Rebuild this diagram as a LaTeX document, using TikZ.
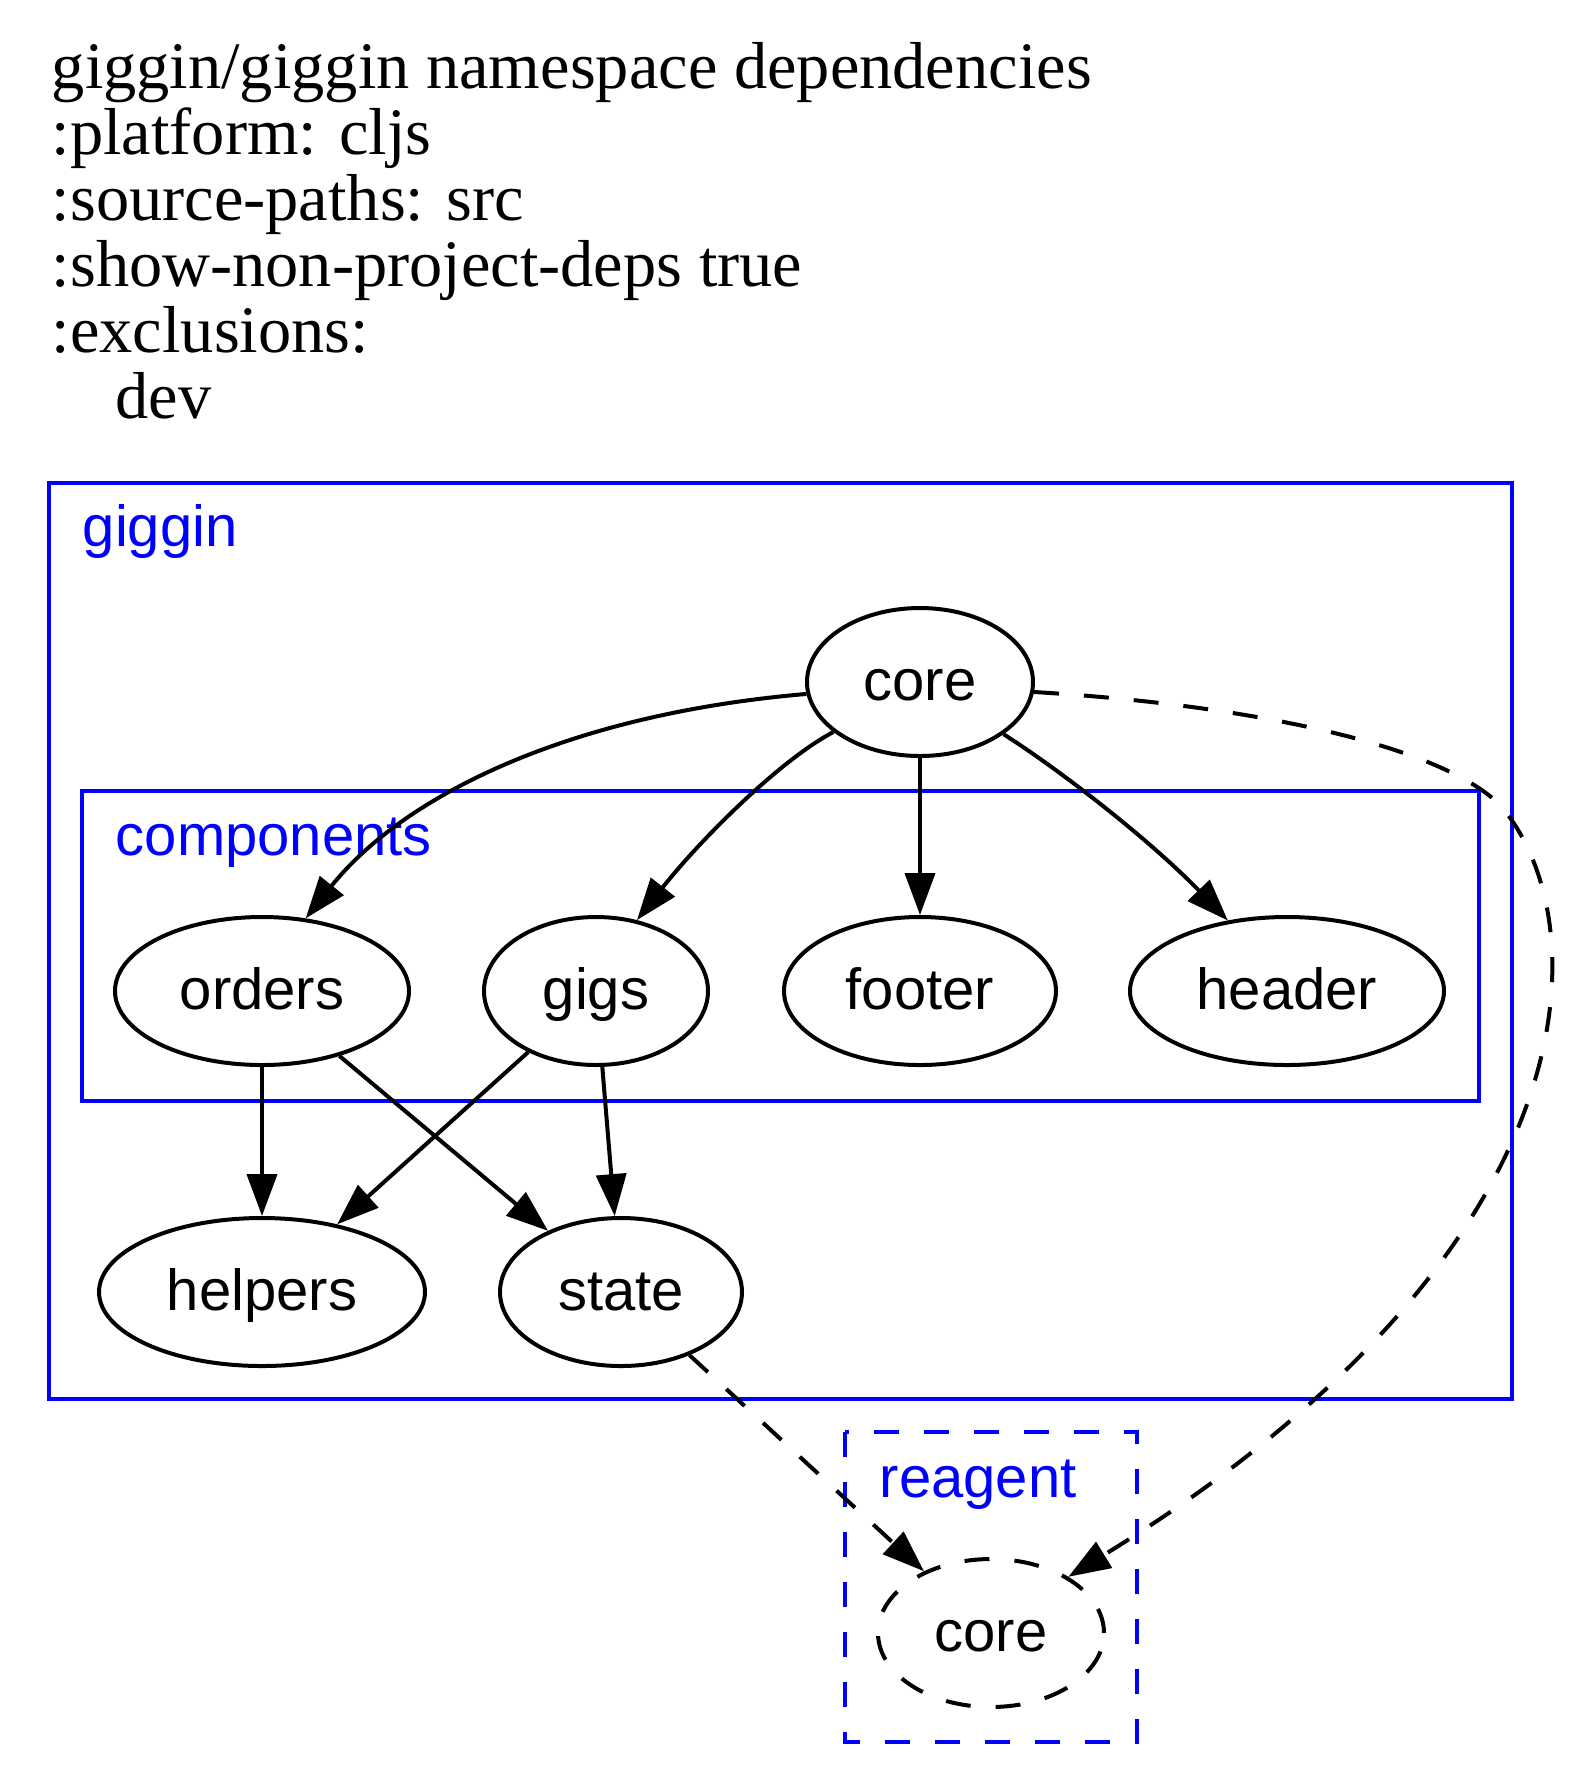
\documentclass[tikz,border=0pt]{standalone}
\usepackage{fontspec}
\setmainfont{Liberation Serif}
\setsansfont{Liberation Sans}
\usetikzlibrary{shapes.geometric}
\usetikzlibrary{arrows.meta}

\tikzset{
  ns/.style={draw, ellipse, line width=1pt, inner sep=0pt, minimum height=37pt, text height=12pt, text depth=3pt, font=\sffamily\fontsize{14.5}{17}\selectfont},
  dep/.style={line width=1pt, -{Triangle[length=10.5pt,width=7.5pt]}},
  extdep/.style={dep, dash pattern=on 6.25pt off 6.25pt},
  cluster/.style={blue, line width=0.9pt},
  clusterlabel/.style={blue, anchor=base west, inner sep=0pt, font=\sffamily\fontsize{14.5}{17}\selectfont},
  title/.style={anchor=base west, inner sep=0pt, font=\fontsize{16.6}{18}\selectfont}
}

\begin{document}
\begin{tikzpicture}[x=0.25pt, y=-0.25pt]% 1 unit = 1 px of the graph
\useasboundingbox (0,0) rectangle (1574,1792);
% title lines
\foreach \t [count=\i] in {{giggin/giggin namespace dependencies}, {:platform: cljs}, {:source-paths: src}, {:show-non-project-deps true}, {:exclusions:}, {\hspace{16pt}dev}}
  \node[title] (title\i) at (51, {88+66*(\i-1)}) {\t};

% clusters
\draw[cluster] (49,483) rectangle (1512,1399);
\node[clusterlabel] (lgiggin) at (82,546) {giggin};
\draw[cluster] (82,791) rectangle (1479,1101);
\node[clusterlabel] (lcomponents) at (115,855) {components};
\draw[cluster, dash pattern=on 6.25pt off 6.25pt] (845,1432) rectangle (1137,1742);
\node[clusterlabel] (lreagent) at (879,1497) {reagent};

% namespaces
\node[ns, minimum width=56.5pt] (core) at (920,682) {core};
\node[ns, minimum width=73.5pt] (orders) at (262,991) {orders};
\node[ns, minimum width=56pt] (gigs) at (596,991) {gigs};
\node[ns, minimum width=68pt] (footer) at (920,991) {footer};
\node[ns, minimum width=78.5pt] (header) at (1287,991) {header};
\node[ns, minimum width=81.5pt] (helpers) at (262,1292) {helpers};
\node[ns, minimum width=60.5pt] (state) at (621,1292) {state};
\node[ns, dash pattern=on 6.25pt off 6.25pt, minimum width=56.5pt] (rcore) at (991,1633) {core};

% dependencies
\draw[dep] (core.186) .. controls (560,715) and (400,800) .. (orders.59);
\draw[dep] (core.210) .. controls (780,760) and (700,840) .. (gigs.60);
\draw[dep] (core) -- (footer);
\draw[dep] (core.328) .. controls (1060,770) and (1150,840) .. (header.130);
\draw[dep] (orders) -- (helpers);
\draw[dep] (orders) -- (state);
\draw[dep] (gigs) -- (helpers);
\draw[dep] (gigs) -- (state);
\draw[extdep] (state) -- (rcore);
\draw[extdep] (core.355) .. controls (1250,705) and (1440,745) .. (1500,805)
  .. controls (1600,920) and (1600,1250) .. (rcore.36);
\end{tikzpicture}
\end{document}
